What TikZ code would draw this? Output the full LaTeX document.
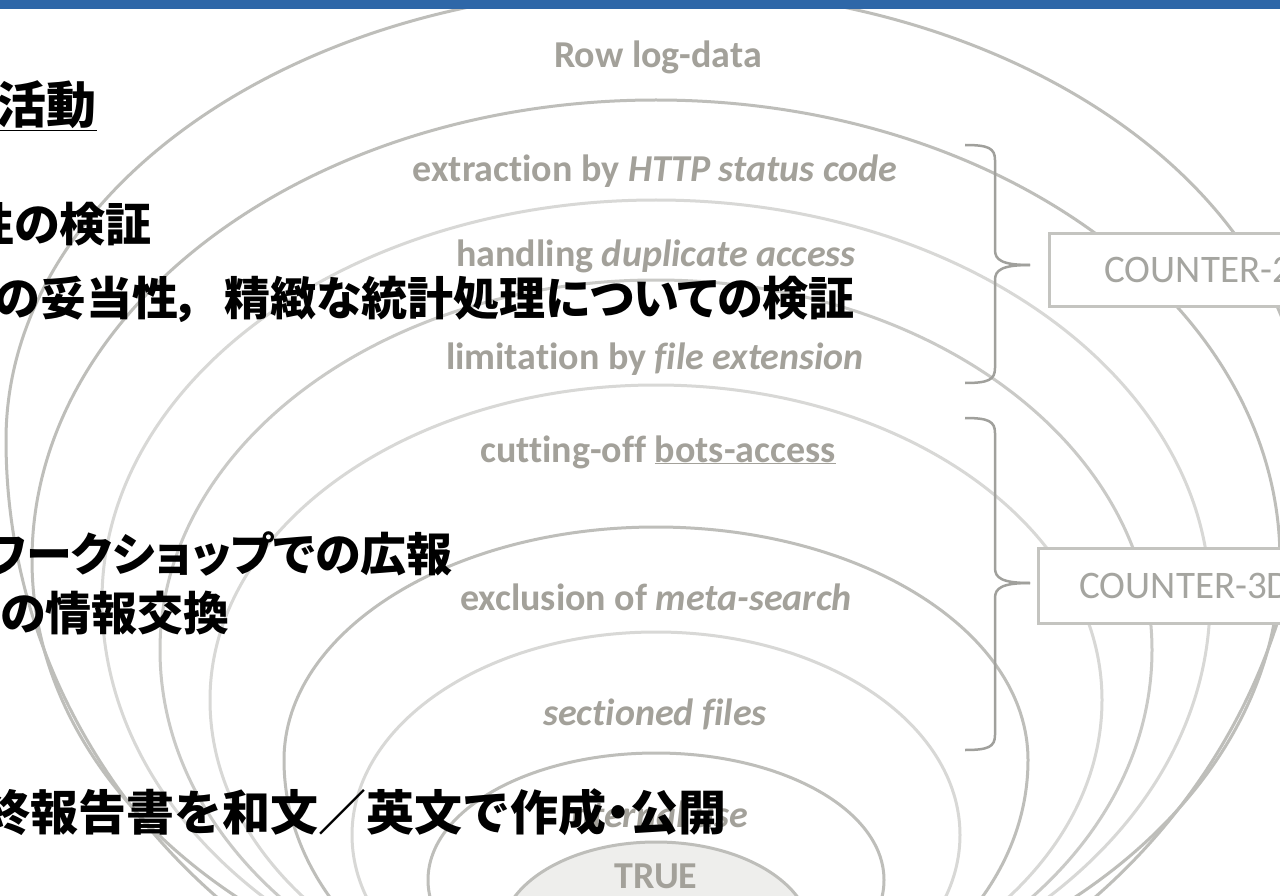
\documentclass[tikz,border=0pt]{standalone}
\usepackage{fontspec}
\setmainfont{Carlito}[Ligatures=NoCommon]
\newfontfamily\jpfont{Noto Sans CJK JP}[RawFeature=+palt]
\newfontfamily\jpfull{Noto Sans CJK JP}
\definecolor{barblue}{RGB}{46,103,168}
\definecolor{cmed}{RGB}{190,190,186}
\definecolor{cmid}{RGB}{202,202,199}
\definecolor{clight}{RGB}{216,216,214}
\definecolor{lblgray}{RGB}{163,161,154}
\definecolor{truefill}{RGB}{238,238,236}
\definecolor{boxline}{RGB}{196,196,192}
\definecolor{bracecol}{RGB}{160,160,156}
\definecolor{ctext}{RGB}{165,165,160}
\begin{document}
\begin{tikzpicture}[x=1pt,y=-1pt,
  layer/.style={line width=3pt},
  lbl/.style={text=lblgray, font=\fontsize{38}{40}\selectfont\bfseries, inner sep=0pt, anchor=base},
  jp/.style={font=\jpfont\fontsize{46}{50}\selectfont\bfseries, text=black, inner sep=0pt, anchor=base east},
  cbox/.style={draw=boxline, line width=3pt, fill=white, text=ctext, font=\fontsize{39}{43}\selectfont, anchor=north west, align=left},
  bracepath/.style={draw=bracecol, line width=2.5pt}]
\fill[white] (0,0) rectangle (1280,896);
\useasboundingbox (0,0) rectangle (1280,896);
\clip (0,0) rectangle (1280,896);
% nested layers: centre y / half width / top radius / bottom radius / colour
\foreach \cy/\a/\bt/\bb/\col in {440/650/452/620/cmed, 560/624/460/455/cmed, 600/554/400/421/clight, 650/496/370/379/cmid, 700/446/315/322/clight, 760/372/233/285/cmed, 835/304/203/203/clight, 880/228/127/127/cmed}
{
  \draw[layer,draw=\col] (656-\a,\cy) arc[start angle=180,end angle=360,x radius=\a,y radius=\bt] arc[start angle=0,end angle=180,x radius=\a,y radius=\bb] -- cycle;
}
\draw[layer,draw=cmed,fill=truefill] (656,935) ellipse[x radius=155,y radius=93];
\fill[barblue] (0,0) rectangle (1280,9);
% boxes
\node[cbox, minimum height=73pt, text width=220pt, inner xsep=55pt] (c2) at (1048,232) {COUNTER-2};
\node[cbox, minimum height=75pt, text width=240pt, inner xsep=41pt] (c3) at (1037,547) {COUNTER-3D};
% braces
\draw[bracepath] (965,145) .. controls (988,145) and (995,148) .. (995,160) -- (995,250) .. controls (995,260) and (1002,265) .. (1030,265);
\draw[bracepath] (965,383) .. controls (988,383) and (995,380) .. (995,368) -- (995,280) .. controls (995,270) and (1002,265) .. (1030,265);
\draw[bracepath] (965,418) .. controls (988,418) and (995,421) .. (995,433) -- (995,568) .. controls (995,578) and (1002,583) .. (1030,583);
\draw[bracepath] (965,750) .. controls (988,750) and (995,747) .. (995,735) -- (995,598) .. controls (995,588) and (1002,583) .. (1030,583);
% labels
\node[lbl] (rowlog) at (658,68) {Row log-data};
\node[lbl] (extr) at (655,182) {extraction by \textit{HTTP status code}};
\node[lbl] (dup) at (656,266) {handling \textit{duplicate access}};
\node[lbl] (ext) at (655,369) {limitation by \textit{file extension}};
\node[lbl] (bots) at (658,462) {cutting-off \underline{bots-access}};
\node[lbl] (meta) at (656,610) {exclusion of \textit{meta-search}};
\node[lbl] (sect) at (655,725) {\textit{sectioned files}};
\node[lbl] (intl) at (655,827) {\textit{internal use}};
\node[lbl] (true) at (656,888) {TRUE};
% Japanese text
\node[jp, font=\jpfont\fontsize{50}{54}\selectfont\bfseries] (head) at (97,124) {\underline{活動}};
\node[jp] (j2) at (152,242) {性の検証};
\node[jp] (j3) at (855,315) {の妥当性\makebox[46pt][l]{，}精緻な統計処理についての検証};
\node[jp] (j4) at (453,571) {ワークショップでの広報};
\node[jp] (j5) at (230,630) {の情報交換};
\node[jp, font=\jpfull\fontsize{48}{52}\selectfont\bfseries] (j6) at (727,830) {最終報告書を和文／英文で作成{\jpfont ・}公開};
\end{tikzpicture}
\end{document}
